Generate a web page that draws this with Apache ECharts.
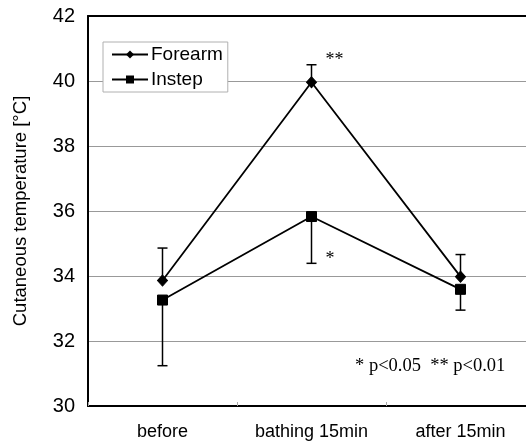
<!DOCTYPE html>
<html>
<head>
<meta charset="utf-8">
<script src="https://cdn.jsdelivr.net/npm/echarts@6/dist/echarts.min.js"></script>
<style>
  html, body { margin: 0; padding: 0; background: #fff; overflow: hidden; }
  #chart { width: 526px; height: 444px; }
</style>
</head>
<body>
<div id="chart"></div>
<script>
// Measurement points
const categories = ['before', 'bathing 15min', 'after 15min'];

// Mean cutaneous temperature (°C) and standard deviation
const forearmMean = [33.86, 39.96, 33.98];
const forearmSD = [1.0, 0.54, 0.68];
const instepMean = [33.26, 35.83, 33.59];
const instepSD = [2.02, 1.44, 0.64];

// Significance marks per point
const forearmSig = ['', '**', ''];
const instepSig = ['', '*', ''];

const yTicks = [30, 32, 34, 36, 38, 40, 42];

const SANS = '"Liberation Sans", Arial, sans-serif';
const SERIF = '"Liberation Serif", "Times New Roman", serif';

// Error bar: forearm drawn upward, instep drawn downward
function errorBar(means, sds, sigs, dir) {
  return function (params, api) {
    const i = api.value(0);
    const m = means[i];
    const end = m + dir * sds[i];
    const p0 = api.coord([i, m]);
    const p1 = api.coord([i, end]);
    const half = 5;
    const children = [
      { type: 'line', shape: { x1: p0[0], y1: p0[1], x2: p1[0], y2: p1[1] },
        style: { stroke: '#000', lineWidth: 1.5 } },
      { type: 'line', shape: { x1: p1[0] - half, y1: p1[1], x2: p1[0] + half, y2: p1[1] },
        style: { stroke: '#000', lineWidth: 1.5 } }
    ];
    if (sigs[i]) {
      children.push({
        type: 'text',
        style: {
          text: sigs[i], x: p1[0] + 14, y: p1[1] - 4,
          font: '18px ' + SERIF,
          fill: '#000', verticalAlign: 'middle', align: 'left'
        }
      });
    }
    return { type: 'group', children: children };
  };
}

const chart = echarts.init(document.getElementById('chart'), null, { renderer: 'canvas' });

const frameLine = { show: true, lineStyle: { color: '#000', width: 2 } };

chart.setOption({
  animation: false,
  backgroundColor: '#fff',
  grid: {
    left: 88, top: 16, width: 447, height: 390,
    outerBoundsMode: 'none',
    containLabel: false,
    show: false
  },
  legend: {
    left: 103, top: 42,
    orient: 'vertical',
    data: ['Forearm', 'Instep'],
    backgroundColor: '#fff',
    borderColor: '#b0b0b0',
    borderWidth: 1,
    borderRadius: 0,
    padding: [3, 5, 3, 8],
    itemGap: 6,
    itemWidth: 36,
    itemHeight: 10,
    textStyle: { fontFamily: SANS, fontSize: 19, color: '#000', padding: [0, 0, 0, -2] }
  },
  xAxis: [
    {
      type: 'category',
      data: categories,
      boundaryGap: true,
      position: 'bottom',
      axisLine: frameLine,
      axisTick: { show: true, inside: true, length: 4, lineStyle: { color: '#aaa' } },
      axisLabel: { color: '#000', fontFamily: SANS, fontSize: 18, margin: 17 },
      splitLine: { show: false }
    },
    {
      // top edge of the plot frame
      type: 'category',
      data: categories,
      position: 'top',
      axisLine: frameLine,
      axisTick: { show: false },
      axisLabel: { show: false },
      splitLine: { show: false }
    }
  ],
  yAxis: {
    type: 'value',
    min: yTicks[0], max: yTicks[yTicks.length - 1], interval: 2,
    name: 'Cutaneous temperature [°C]',
    nameLocation: 'middle',
    nameGap: 58,
    nameTextStyle: { color: '#000', fontFamily: SANS, fontSize: 18.5 },
    axisLine: frameLine,
    axisTick: { show: false },
    axisLabel: { color: '#000', fontFamily: SANS, fontSize: 20, margin: 13 },
    splitLine: { show: true, lineStyle: { color: '#999', width: 1 } }
  },
  series: [
    {
      name: 'Forearm-err', type: 'custom', silent: true, z: 3,
      data: categories.map((c, i) => [i]),
      renderItem: errorBar(forearmMean, forearmSD, forearmSig, 1)
    },
    {
      name: 'Instep-err', type: 'custom', silent: true, z: 3,
      data: categories.map((c, i) => [i]),
      renderItem: errorBar(instepMean, instepSD, instepSig, -1)
    },
    {
      name: 'Forearm', type: 'line', data: forearmMean, z: 4,
      symbol: 'diamond', symbolSize: [10, 11],
      lineStyle: { color: '#000', width: 1.8 },
      itemStyle: { color: '#000', borderColor: '#000' }
    },
    {
      name: 'Instep', type: 'line', data: instepMean, z: 4,
      symbol: 'rect', symbolSize: 10,
      lineStyle: { color: '#000', width: 1.8 },
      itemStyle: { color: '#000', borderColor: '#000' }
    }
  ],
  graphic: [
    {
      type: 'text', left: 355, top: 357,
      style: {
        text: '* p<0.05  ** p<0.01',
        font: '18.5px ' + SERIF,
        fill: '#000'
      }
    }
  ]
});
</script>
</body>
</html>
